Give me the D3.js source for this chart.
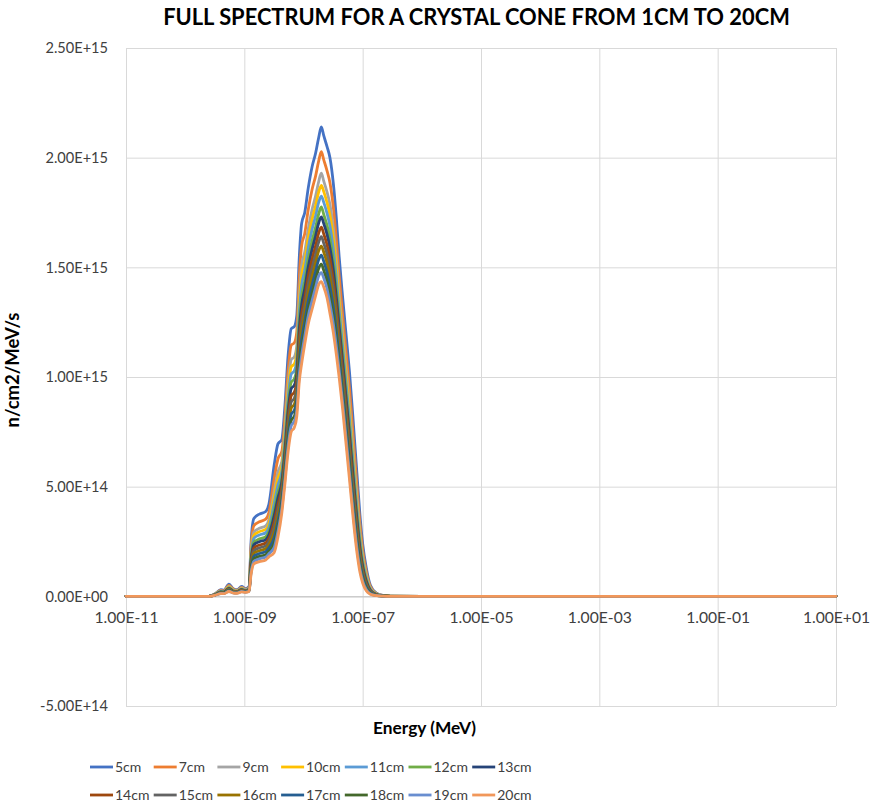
<!DOCTYPE html>
<html><head><meta charset="utf-8">
<script src="https://cdn.jsdelivr.net/npm/d3@7"></script>
<style>
html,body{margin:0;padding:0;background:#fff;}
text{font-family:Lato,'Open Sans',sans-serif;}
</style></head>
<body>
<svg id="chart" width="872" height="804"></svg>
<script>
// ---------- DATA (values in units of 1E+15 n/cm2/MeV/s) ----------
const energy = [1e-11,2.5e-10,3.2e-10,4.0e-10,4.5e-10,5.5e-10,6.5e-10,7.5e-10,9.0e-10,1.05e-9,1.2e-9,1.3e-9,1.45e-9,1.8e-9,2.3e-9,2.6e-9,3.2e-9,3.7e-9,4.3e-9,4.8e-9,5.5e-9,6.2e-9,7.0e-9,7.7e-9,8.5e-9,9.3e-9,1.05e-8,1.2e-8,1.4e-8,1.6e-8,1.8e-8,2.0e-8,2.2e-8,2.5e-8,2.8e-8,3.2e-8,3.6e-8,4.0e-8,4.6e-8,5.3e-8,6.0e-8,7.0e-8,8.0e-8,9.0e-8,1.0e-7,1.15e-7,1.35e-7,1.7e-7,2.2e-7,3.0e-7,1e-6,10];

const seriesNames = ["5cm","7cm","9cm","10cm","11cm","12cm","13cm","14cm","15cm","16cm","17cm","18cm","19cm","20cm"];

const s5  = [0,0,0.012,0.030,0.028,0.055,0.035,0.030,0.045,0.035,0.045,0.25,0.355,0.375,0.387,0.42,0.60,0.695,0.715,0.85,1.10,1.22,1.23,1.28,1.55,1.70,1.75,1.86,1.96,2.02,2.09,2.14,2.10,2.05,2.00,1.88,1.72,1.55,1.36,1.18,1.02,0.78,0.56,0.37,0.24,0.13,0.05,0.015,0.004,0.001,0,0];
const s7  = [0,0,0.011,0.027,0.025,0.050,0.032,0.027,0.041,0.032,0.041,0.226,0.322,0.340,0.352,0.382,0.536,0.627,0.661,0.794,1.030,1.145,1.156,1.206,1.459,1.598,1.654,1.761,1.856,1.916,1.983,2.027,1.990,1.940,1.886,1.771,1.621,1.462,1.278,1.100,0.942,0.710,0.502,0.328,0.211,0.113,0.044,0.013,0.004,0.001,0,0];
const s9  = [0,0,0.010,0.025,0.023,0.045,0.029,0.025,0.038,0.030,0.038,0.205,0.293,0.310,0.321,0.348,0.480,0.568,0.615,0.745,0.968,1.079,1.092,1.142,1.379,1.508,1.570,1.674,1.765,1.825,1.889,1.929,1.893,1.843,1.787,1.676,1.534,1.385,1.207,1.030,0.873,0.648,0.452,0.292,0.186,0.099,0.038,0.011,0.003,0.001,0,0];
const s10 = [0,0,0.009,0.023,0.022,0.043,0.028,0.024,0.036,0.029,0.036,0.195,0.278,0.295,0.305,0.331,0.452,0.538,0.591,0.721,0.937,1.046,1.060,1.110,1.339,1.463,1.528,1.631,1.720,1.780,1.842,1.874,1.845,1.795,1.737,1.628,1.491,1.347,1.171,0.995,0.839,0.617,0.427,0.274,0.173,0.091,0.035,0.011,0.003,0.001,0,0];
const s11 = [0,0,0.009,0.022,0.021,0.040,0.026,0.023,0.034,0.028,0.035,0.184,0.264,0.280,0.290,0.314,0.424,0.508,0.568,0.696,0.906,1.013,1.028,1.078,1.299,1.418,1.486,1.587,1.674,1.734,1.795,1.825,1.796,1.746,1.688,1.581,1.447,1.308,1.136,0.960,0.804,0.586,0.402,0.256,0.161,0.084,0.032,0.010,0.003,0.001,0,0];
const s12 = [0,0,0.008,0.021,0.020,0.038,0.025,0.022,0.032,0.026,0.033,0.172,0.247,0.262,0.272,0.295,0.392,0.474,0.541,0.668,0.871,0.976,0.991,1.041,1.254,1.367,1.438,1.538,1.622,1.682,1.742,1.775,1.741,1.691,1.631,1.526,1.398,1.264,1.095,0.920,0.765,0.551,0.373,0.235,0.146,0.075,0.029,0.009,0.002,0,0,0];
const s13 = [0,0,0.008,0.020,0.019,0.036,0.023,0.021,0.031,0.025,0.032,0.163,0.235,0.249,0.259,0.281,0.368,0.449,0.521,0.647,0.845,0.947,0.963,1.013,1.219,1.329,1.402,1.500,1.583,1.643,1.701,1.730,1.700,1.650,1.588,1.486,1.360,1.231,1.064,0.890,0.736,0.525,0.351,0.219,0.136,0.069,0.027,0.008,0.002,0,0,0];
const s14 = [0,0,0.007,0.018,0.018,0.034,0.022,0.020,0.029,0.024,0.030,0.153,0.221,0.234,0.243,0.264,0.340,0.419,0.497,0.623,0.814,0.915,0.931,0.981,1.180,1.284,1.360,1.457,1.538,1.598,1.655,1.683,1.652,1.602,1.539,1.438,1.317,1.193,1.029,0.855,0.702,0.494,0.326,0.201,0.123,0.062,0.024,0.007,0.002,0,0,0];
const s15 = [0,0,0.007,0.017,0.017,0.032,0.021,0.019,0.027,0.023,0.029,0.144,0.208,0.221,0.230,0.250,0.316,0.393,0.477,0.602,0.788,0.886,0.903,0.953,1.145,1.246,1.324,1.420,1.499,1.559,1.614,1.640,1.610,1.560,1.496,1.397,1.280,1.160,0.998,0.825,0.672,0.468,0.304,0.185,0.112,0.055,0.022,0.007,0.002,0,0,0];
const s16 = [0,0,0.007,0.016,0.016,0.030,0.020,0.018,0.026,0.022,0.027,0.135,0.196,0.208,0.217,0.235,0.292,0.368,0.457,0.581,0.761,0.858,0.876,0.926,1.111,1.207,1.288,1.383,1.460,1.520,1.574,1.597,1.569,1.519,1.453,1.356,1.243,1.127,0.967,0.795,0.643,0.441,0.283,0.170,0.101,0.049,0.019,0.006,0.002,0,0,0];
const s17 = [0,0,0.006,0.015,0.015,0.028,0.018,0.017,0.024,0.021,0.026,0.126,0.183,0.195,0.204,0.221,0.268,0.342,0.437,0.560,0.735,0.830,0.848,0.898,1.077,1.169,1.252,1.345,1.421,1.481,1.534,1.556,1.527,1.477,1.411,1.316,1.205,1.094,0.937,0.765,0.613,0.415,0.261,0.154,0.091,0.043,0.017,0.005,0.001,0,0,0];
const s18 = [0,0,0.006,0.014,0.014,0.026,0.017,0.016,0.023,0.020,0.025,0.117,0.171,0.182,0.190,0.206,0.244,0.317,0.417,0.539,0.708,0.802,0.821,0.871,1.043,1.130,1.216,1.308,1.382,1.442,1.494,1.515,1.486,1.436,1.368,1.275,1.168,1.061,0.906,0.735,0.584,0.388,0.240,0.139,0.080,0.037,0.014,0.004,0.001,0,0,0];
const s19 = [0,0,0.005,0.013,0.013,0.024,0.016,0.015,0.022,0.019,0.023,0.109,0.160,0.171,0.179,0.194,0.224,0.296,0.400,0.521,0.686,0.778,0.798,0.848,1.014,1.098,1.186,1.277,1.349,1.409,1.460,1.476,1.451,1.401,1.333,1.241,1.137,1.033,0.881,0.710,0.559,0.366,0.222,0.126,0.071,0.031,0.012,0.004,0.001,0,0,0];
const s20 = [0,0,0.005,0.012,0.012,0.022,0.015,0.014,0.020,0.018,0.022,0.10,0.148,0.158,0.166,0.18,0.20,0.27,0.38,0.50,0.66,0.75,0.77,0.82,0.98,1.06,1.15,1.24,1.31,1.37,1.42,1.435,1.41,1.36,1.29,1.20,1.10,1.00,0.85,0.68,0.53,0.34,0.20,0.11,0.06,0.025,0.01,0.003,0.001,0,0,0];

const seriesValues = [s5,s7,s9,s10,s11,s12,s13,s14,s15,s16,s17,s18,s19,s20];
const seriesColors = ["#4472C4","#ED7D31","#A5A5A5","#FFC000","#5B9BD5","#70AD47","#264478","#9E480E","#636363","#997300","#255E91","#43682B","#698ED0","#F1975A"];

const yTicks = [-0.5,0,0.5,1.0,1.5,2.0,2.5];          // x 1E+15
const xTicks = [1e-11,1e-9,1e-7,1e-5,1e-3,1e-1,1e1];

const titleText = "FULL SPECTRUM FOR A CRYSTAL CONE FROM 1CM TO 20CM";
const xTitle = "Energy (MeV)";
const yTitle = "n/cm2/MeV/s";

// ---------- LAYOUT ----------
const FONT = "Lato, 'Open Sans', sans-serif";
const svg = d3.select("#chart");
const L = 126, R = 836, T = 48, B = 706;
const x = d3.scaleLog().domain([1e-11, 10]).range([L, R]);
const y = d3.scaleLinear().domain([-0.5, 2.5]).range([B, T]);

function sci(v){
  if (v === 0) return "0.00E+00";
  const e = Math.floor(Math.log10(Math.abs(v)) + 1e-9);
  const m = v / Math.pow(10, e);
  return m.toFixed(2) + "E" + (e < 0 ? "-" : "+") + String(Math.abs(e)).padStart(2, "0");
}
function fitSize(sel, target){
  const n = sel.node();
  const w = n.getComputedTextLength();
  const fs = parseFloat(sel.attr("font-size"));
  return Math.min(fs * target / w, 40);
}

// gridlines
svg.append("g").attr("transform",`translate(${L},0)`)
  .call(d3.axisLeft(y).tickValues(yTicks).tickSize(-(R-L)).tickFormat(""))
  .call(g=>g.select(".domain").remove())
  .call(g=>g.selectAll("line").attr("stroke","#d9d9d9").attr("stroke-width",1));
svg.append("g").attr("transform",`translate(0,${B})`)
  .call(d3.axisBottom(x).tickValues(xTicks).tickSize(-(B-T)).tickFormat(""))
  .call(g=>g.select(".domain").remove())
  .call(g=>g.selectAll("line").attr("stroke","#d9d9d9").attr("stroke-width",1));

// y axis labels
const yAx = svg.append("g").attr("transform",`translate(${L},0)`)
  .call(d3.axisLeft(y).tickValues(yTicks).tickSize(0).tickPadding(18).tickFormat(v=>sci(Math.round(v*1e15*100)/100)));
yAx.select(".domain").attr("stroke","#d9d9d9");
// x axis at y=0
const xAx = svg.append("g").attr("transform",`translate(0,${y(0)})`)
  .call(d3.axisBottom(x).tickValues(xTicks).tickSize(0).tickPadding(16).tickFormat(sci));
xAx.select(".domain").attr("stroke","#bfbfbf");

// fit tick fonts
[yAx, xAx].forEach(g=>g.selectAll("text").attr("fill","#404040").attr("font-family",FONT).attr("font-size",14));
const yfs = fitSize(yAx.select(".tick text"), 68);
yAx.selectAll("text").attr("font-size", yfs);
const xfs = fitSize(xAx.select(".tick text"), 64);
xAx.selectAll("text").attr("font-size", xfs);

// lines
const line = d3.line().x((d,i)=>x(energy[i])).y(d=>y(d)).curve(d3.curveMonotoneX);
svg.append("g").selectAll("path.series")
  .data(seriesValues).join("path").attr("class","series")
  .attr("d", d=>line(d)).attr("fill","none")
  .attr("stroke",(d,i)=>seriesColors[i]).attr("stroke-width",2.8)
  .attr("stroke-linejoin","round").attr("stroke-linecap","round");

// title
const tt = svg.append("text").attr("x",476.5).attr("y",25).attr("text-anchor","middle")
  .attr("font-family",FONT).attr("font-weight","bold").attr("font-size",18).attr("fill","#000").text(titleText);
tt.attr("font-size", fitSize(tt, 627));

// axis titles
const xt = svg.append("text").attr("x",424.5).attr("y",734).attr("text-anchor","middle")
  .attr("font-family",FONT).attr("font-weight","bold").attr("font-size",14).attr("fill","#000").text(xTitle);
xt.attr("font-size", fitSize(xt, 103));
const yt = svg.append("text").attr("transform","translate(19,370) rotate(-90)").attr("text-anchor","middle")
  .attr("font-family",FONT).attr("font-weight","bold").attr("font-size",14).attr("fill","#000").text(yTitle);
yt.attr("font-size", fitSize(yt, 115));

// legend
const leg = svg.append("g");
const items = leg.selectAll("g.item").data(seriesNames).join("g").attr("class","item")
  .attr("transform",(d,i)=>`translate(${90 + (i%7)*63.7},${i<7?767:795})`);
items.append("line").attr("x1",0).attr("x2",23).attr("y1",0).attr("y2",0)
  .attr("stroke",(d,i)=>seriesColors[i]).attr("stroke-width",2.8);
items.append("text").attr("x",25).attr("y",0).attr("dy","0.35em")
  .attr("font-family",FONT).attr("font-size",14).attr("fill","#404040").text(d=>d);
</script>
</body></html>
